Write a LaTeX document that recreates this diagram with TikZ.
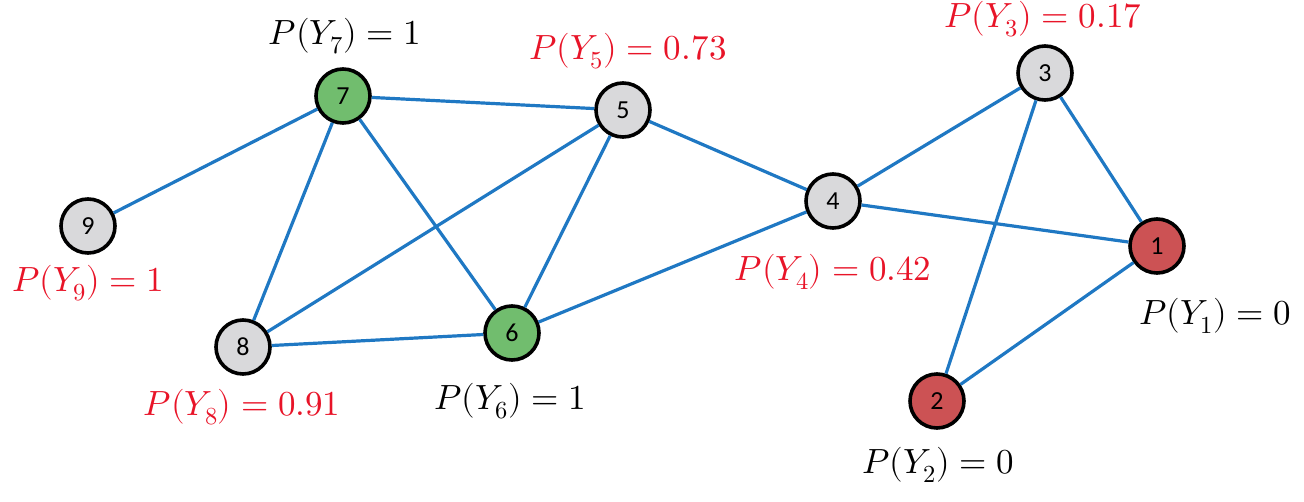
\documentclass[tikz,border=0pt]{standalone}
\usepackage{fontspec}
\usepackage{unicode-math}
\setmathfont{Latin Modern Math}
\newfontfamily\numfont{Carlito}
\definecolor{edgeblue}{RGB}{31,120,195}
\definecolor{ngreen}{RGB}{113,189,110}
\definecolor{nred}{RGB}{204,82,84}
\definecolor{ngrey}{RGB}{217,217,219}
\definecolor{lred}{RGB}{232,20,40}
\begin{document}
\begin{tikzpicture}[x=1pt,y=-1pt,
  vnode/.style={circle,draw=black,line width=3.6pt,minimum size=54pt,inner sep=0pt,font=\numfont\fontsize{26}{30}\selectfont},
  gnode/.style={vnode,fill=ngreen},
  rnode/.style={vnode,fill=nred},
  wnode/.style={vnode,fill=ngrey},
  edge/.style={draw=edgeblue,line width=3.2pt},
  lab/.style={inner sep=0pt,font=\fontsize{35}{40}\selectfont},
  rlab/.style={lab,text=lred},
  blab/.style={lab,text=black}]
\useasboundingbox (0,0) rectangle (1304,501);
\node[gnode] (n7) at (343,96) {7};
\node[wnode] (n5) at (623,110) {5};
\node[wnode] (n3) at (1045,73) {3};
\node[wnode] (n4) at (833,201) {4};
\node[rnode] (n1) at (1157,246) {1};
\node[wnode] (n9) at (88,226) {9};
\node[wnode] (n8) at (243,347) {8};
\node[gnode] (n6) at (512,333) {6};
\node[rnode] (n2) at (937,401) {2};
\foreach \a/\b in {n7/n5,n7/n9,n7/n8,n7/n6,n5/n8,n5/n6,n5/n4,n4/n6,n4/n3,n4/n1,n3/n1,n3/n2,n1/n2,n8/n6}
  \draw[edge] (\a) -- (\b);
\node[blab] (l7) at (345,36) {$P(Y_7)=1$};
\node[rlab] (l5) at (628,51) {$P(Y_5)=0.73$};
\node[rlab] (l3) at (1043,19) {$P(Y_3)=0.17$};
\node[rlab] (l9) at (88,283) {$P(Y_9)=1$};
\node[rlab] (l4) at (833,272) {$P(Y_4)=0.42$};
\node[blab] (l1) at (1215,316) {$P(Y_1)=0$};
\node[rlab] (l8) at (242,407) {$P(Y_8)=0.91$};
\node[blab] (l6) at (510,401) {$P(Y_6)=1$};
\node[blab] (l2) at (938,465) {$P(Y_2)=0$};
\end{tikzpicture}
\end{document}
